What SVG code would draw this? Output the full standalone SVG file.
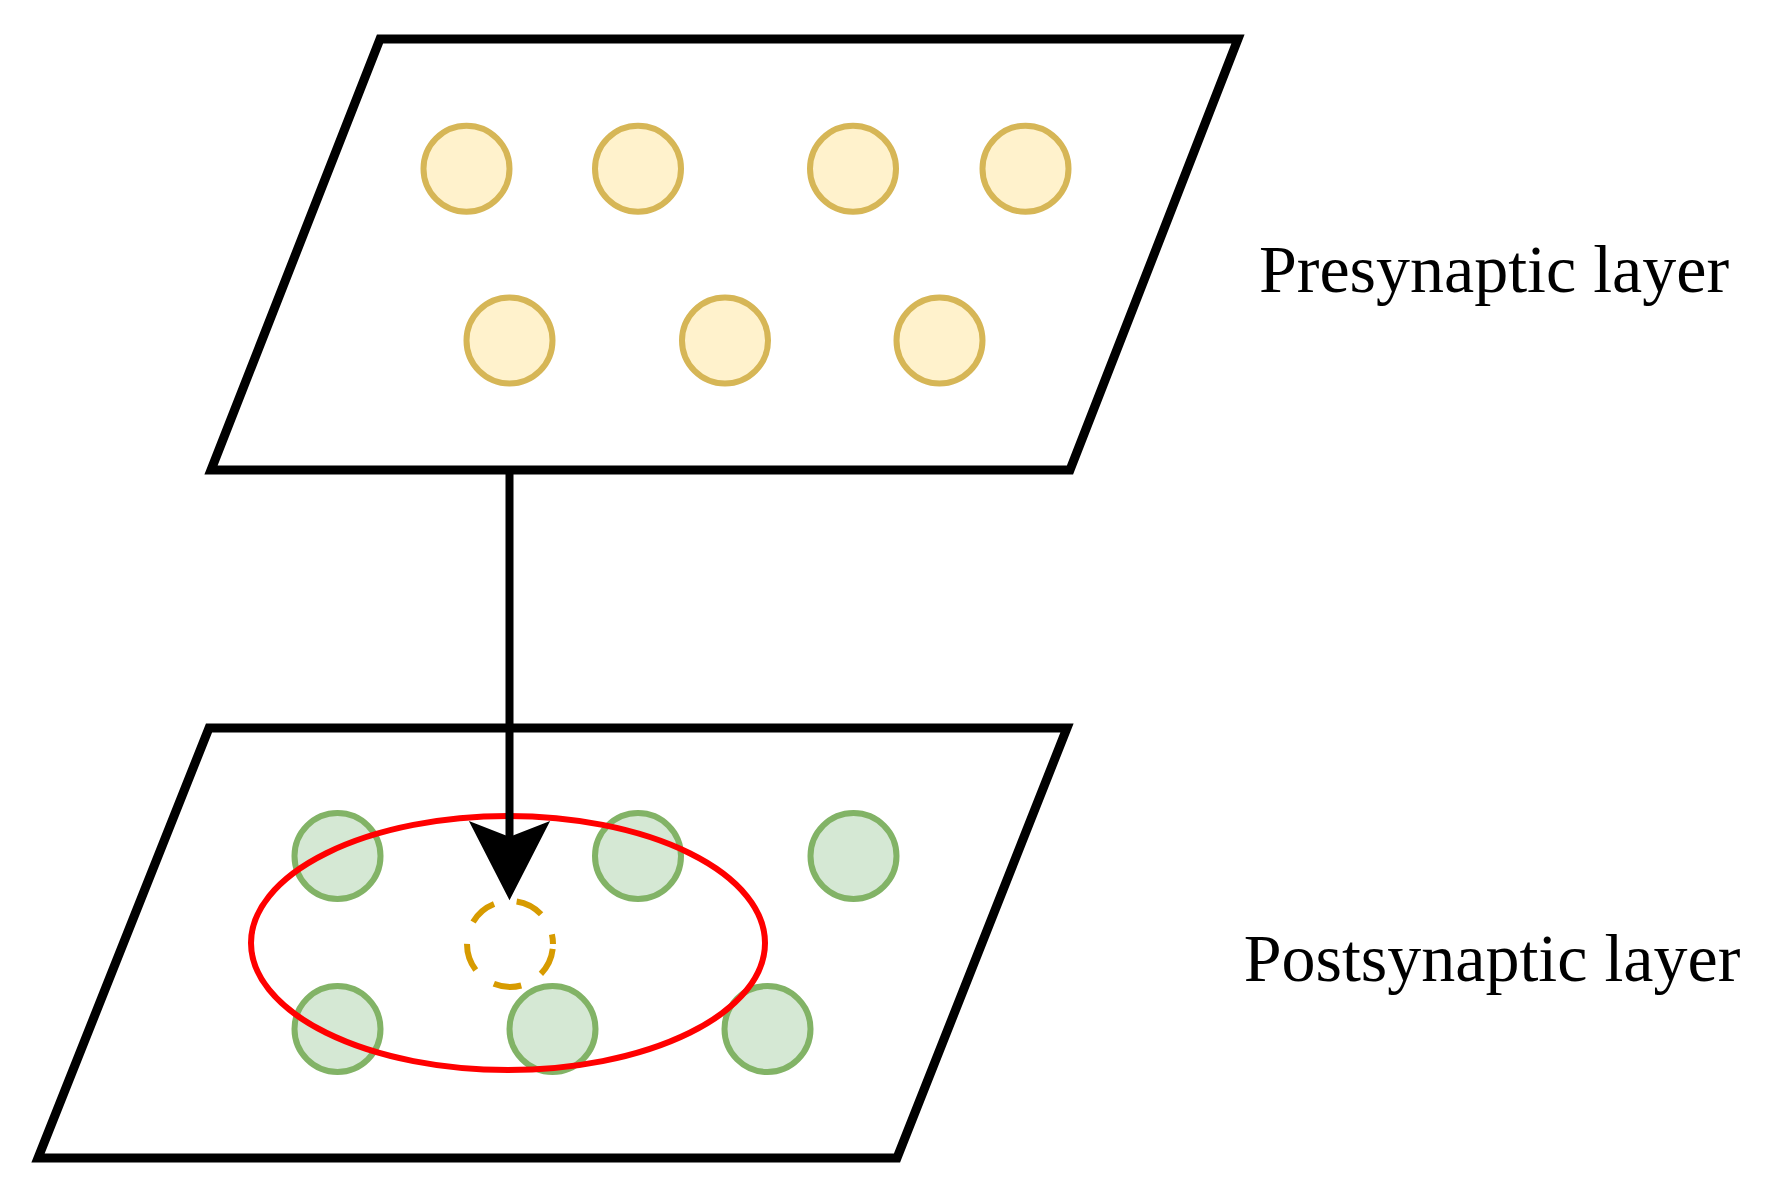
<svg xmlns="http://www.w3.org/2000/svg" width="1776" height="1192" viewBox="0 0 1776 1192">
<style>
.layer{fill:#ffffff;stroke:#000000;stroke-width:9;stroke-linejoin:miter}
.pre{fill:#fff2cc;stroke:#d6b656;stroke-width:6}
.post{fill:#d5e8d4;stroke:#82b366;stroke-width:6}
.label{font-family:"Liberation Serif","Times New Roman",serif;font-size:68px;fill:#000000;text-anchor:middle}
</style>
<rect width="1776" height="1192" fill="#ffffff"/>
<g id="presynaptic-layer">
<polygon class="layer" points="380,39 1238,39 1070,470 211,470"/>
<circle class="pre" cx="466.5" cy="168.7" r="43"/>
<circle class="pre" cx="638" cy="168.7" r="43"/>
<circle class="pre" cx="853" cy="168.7" r="43"/>
<circle class="pre" cx="1025.5" cy="168.7" r="43"/>
<circle class="pre" cx="509.5" cy="340.5" r="43"/>
<circle class="pre" cx="725" cy="340.5" r="43"/>
<circle class="pre" cx="939.5" cy="340.5" r="43"/>
</g>
<g id="presynaptic-label">
<text class="label" x="1494" y="292">Presynaptic layer</text>
</g>
<g id="postsynaptic-layer">
<polygon class="layer" points="209,728 1067,728 897,1158 38,1158"/>
<circle class="post" cx="337.5" cy="856" r="43"/>
<circle class="post" cx="638" cy="856" r="43"/>
<circle class="post" cx="853.5" cy="856" r="43"/>
<circle class="post" cx="337.5" cy="1029" r="43"/>
<circle class="post" cx="552.5" cy="1029" r="43"/>
<circle class="post" cx="767.5" cy="1029" r="43"/>
<circle id="target-neuron" cx="510" cy="944" r="43" fill="none" stroke="#d79b00" stroke-width="6" stroke-dasharray="28 23" stroke-dashoffset="-56"/>
<ellipse id="receptive-field" cx="508" cy="943" rx="257" ry="127" fill="none" stroke="#ff0000" stroke-width="6"/>
</g>
<g id="postsynaptic-label">
<text class="label" x="1492" y="981">Postsynaptic layer</text>
</g>
<g id="connectors">
<line x1="509.5" y1="470" x2="509.5" y2="840" stroke="#000000" stroke-width="8"/>
<polygon points="509.5,898 471,823 509.5,838 548,823" fill="#000000" stroke="#000000" stroke-width="2" stroke-linejoin="miter"/>
</g>
</svg>
